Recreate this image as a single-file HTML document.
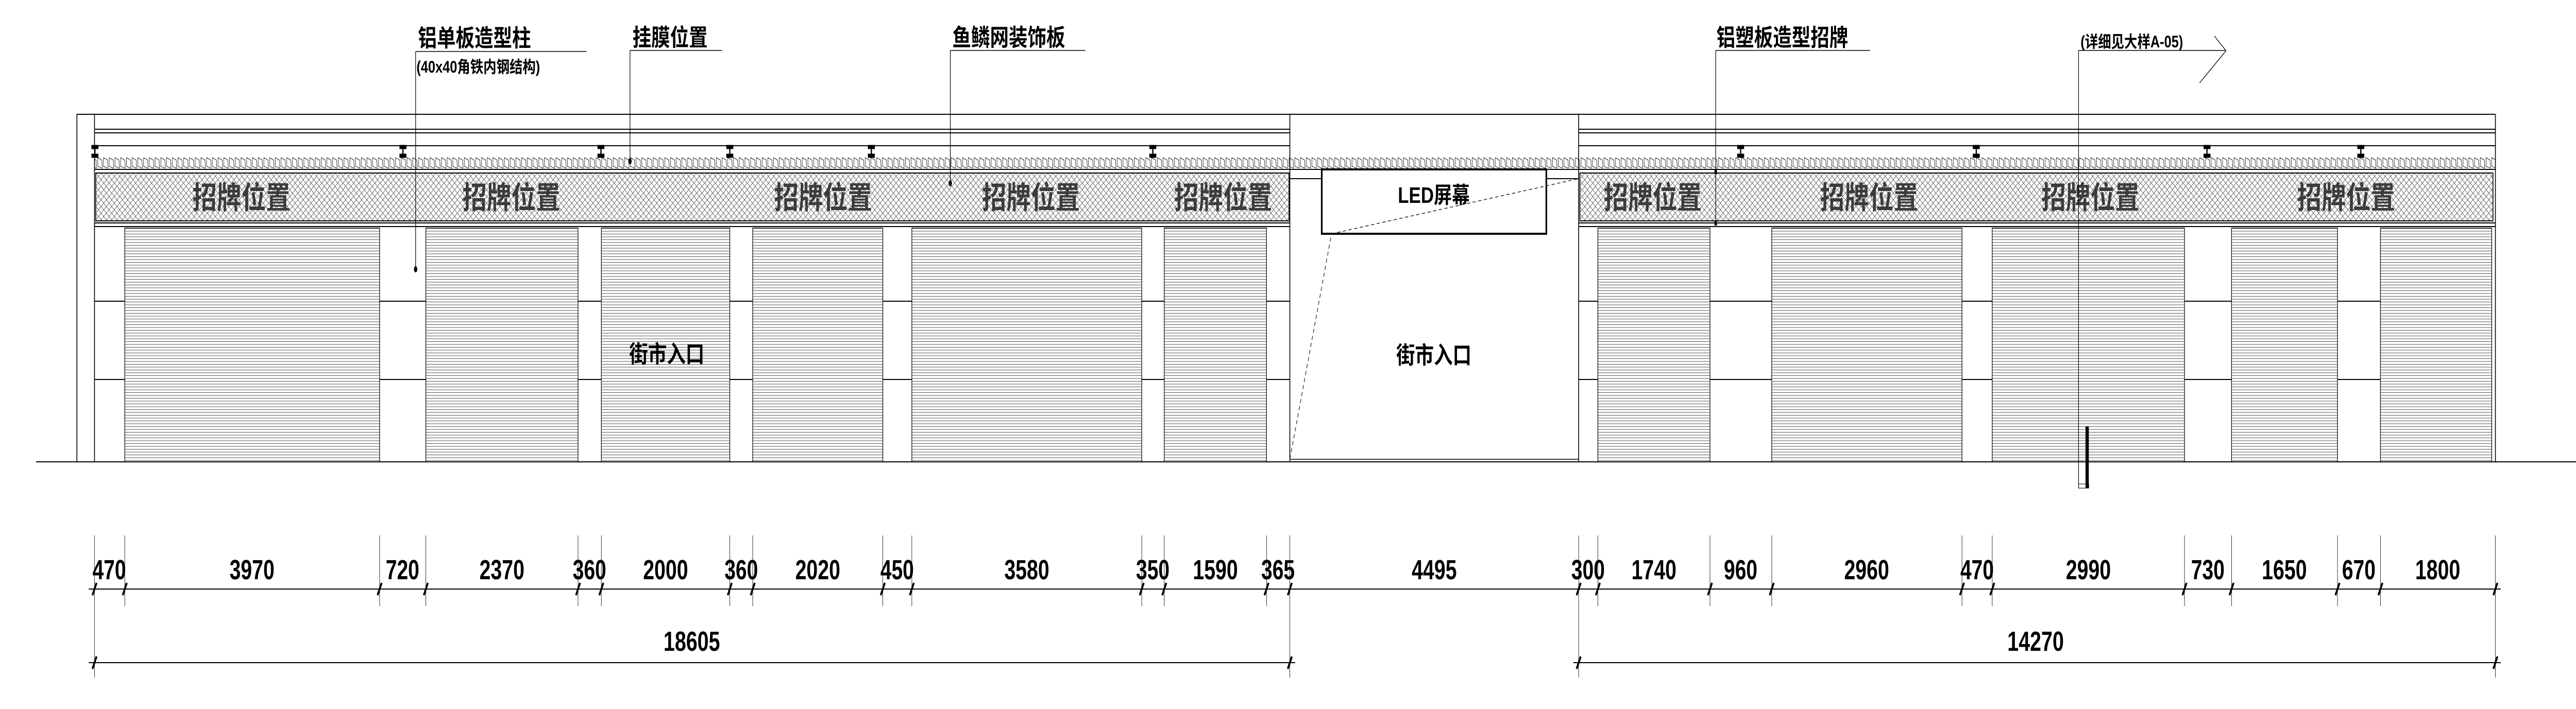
<!DOCTYPE html>
<html><head><meta charset="utf-8"><style>
html,body{margin:0;padding:0;background:#fff;width:100%;height:100%;overflow:hidden;}
svg{display:block;width:100vw;height:100vh;}
.l{font-family:"Liberation Sans","Noto Sans CJK SC",sans-serif;font-weight:bold;fill:#000;}
.s{font-family:"Liberation Sans","Noto Sans CJK SC",sans-serif;font-weight:bold;fill:#3c3c3c;font-size:60px;}
.d{font-family:"Liberation Sans",sans-serif;fill:#000;font-size:54px;font-weight:bold;}
</style></head><body>
<svg viewBox="0 0 6297 1377" preserveAspectRatio="none" xmlns="http://www.w3.org/2000/svg">
<defs>
<pattern id="sh" patternUnits="userSpaceOnUse" x="0" y="443" width="10" height="5.5">
<line x1="0" y1="0.5" x2="10" y2="0.5" stroke="#555" stroke-width="1"/>
</pattern>
<pattern id="xh" patternUnits="userSpaceOnUse" x="0" y="336" width="13" height="13">
<path d="M0 0 L13 13 M13 0 L0 13" stroke="#444" stroke-width="0.9" fill="none"/>
</pattern>
<pattern id="sc" patternUnits="userSpaceOnUse" x="0" y="305" width="14" height="22">
<path d="M1 1 L1 18 L12 22 M1 1 L11 6 L12 22" stroke="#111" stroke-width="1" fill="none"/>
</pattern>
<g id="h"><line x1="0" y1="284" x2="0" y2="304"/><rect x="-7" y="283" width="14" height="5"/><rect x="-7" y="300" width="14" height="5"/></g>
</defs>

<g stroke="#000" stroke-width="2" fill="none">
<line x1="188" y1="222" x2="6100" y2="222"/>
<line x1="188" y1="222" x2="188" y2="897"/>
<line x1="231" y1="222" x2="231" y2="897"/>
<line x1="3153" y1="222" x2="3153" y2="897"/>
<line x1="3859" y1="222" x2="3859" y2="897"/>
<line x1="6100" y1="222" x2="6100" y2="897"/>
<line x1="88" y1="897" x2="6297" y2="897"/>
<line x1="3153" y1="892" x2="3859" y2="892" stroke-width="1.5"/>
<line x1="231" y1="251" x2="3153" y2="251"/>
<line x1="231" y1="258" x2="3153" y2="258"/>
<line x1="231" y1="283" x2="3153" y2="283"/>
<line x1="3859" y1="251" x2="6100" y2="251"/>
<line x1="3859" y1="258" x2="6100" y2="258"/>
<line x1="3859" y1="283" x2="6100" y2="283"/>
<line x1="231" y1="329" x2="6100" y2="329"/>
<line x1="231" y1="433" x2="3153" y2="433"/>
<line x1="231" y1="440" x2="3153" y2="440"/>
<line x1="3859" y1="433" x2="6100" y2="433"/>
<line x1="3859" y1="440" x2="6100" y2="440"/>
<line x1="3153" y1="347" x2="3231" y2="347"/>
<line x1="3780" y1="347" x2="3859" y2="347"/>
</g>

<rect x="232" y="305" width="5867" height="22" fill="url(#sc)"/>
<rect x="234" y="336" width="2917" height="93" fill="url(#xh)" stroke="#000" stroke-width="2"/>
<rect x="3862" y="336" width="2232" height="93" fill="url(#xh)" stroke="#000" stroke-width="2"/>

<g stroke="#000" stroke-width="1.5">
<rect x="305" y="443" width="623" height="454" fill="url(#sh)"/>
<rect x="1041" y="443" width="372" height="454" fill="url(#sh)"/>
<rect x="1470" y="443" width="314" height="454" fill="url(#sh)"/>
<rect x="1840" y="443" width="318" height="454" fill="url(#sh)"/>
<rect x="2229" y="443" width="562" height="454" fill="url(#sh)"/>
<rect x="2846" y="443" width="250" height="454" fill="url(#sh)"/>
<rect x="3906" y="443" width="274" height="454" fill="url(#sh)"/>
<rect x="4331" y="443" width="465" height="454" fill="url(#sh)"/>
<rect x="4870" y="443" width="470" height="454" fill="url(#sh)"/>
<rect x="5455" y="443" width="259" height="454" fill="url(#sh)"/>
<rect x="5819" y="443" width="272" height="454" fill="url(#sh)"/>
</g>
<g stroke="#000" stroke-width="2">
<path d="M231 585H305M928 585H1041M1413 585H1470M1784 585H1840M2158 585H2229M2791 585H2846M3096 585H3153M3859 585H3906M4180 585H4331M4796 585H4870M5340 585H5455M5714 585H5819"/>
<path d="M231 737H305M928 737H1041M1413 737H1470M1784 737H1840M2158 737H2229M2791 737H2846M3096 737H3153M3859 737H3906M4180 737H4331M4796 737H4870M5340 737H5455M5714 737H5819"/>
</g>

<g stroke="#000" stroke-width="3" fill="#000">
<use href="#h" x="232"/><use href="#h" x="985"/><use href="#h" x="1469"/><use href="#h" x="1784"/><use href="#h" x="2130"/><use href="#h" x="2818"/><use href="#h" x="4255"/><use href="#h" x="4831"/><use href="#h" x="5395"/><use href="#h" x="5771"/>
</g>

<rect x="3231" y="329" width="549" height="125" fill="#fff" stroke="#000" stroke-width="4"/>
<path d="M3153 892 L3255 454 M3255 454 L3859 347" stroke="#222" stroke-width="1.5" stroke-dasharray="8,6" fill="none"/>
<text class="l" x="3505" y="394" font-size="44" text-anchor="middle">LED屏幕</text>
<text class="l" x="3505" y="706" font-size="46" text-anchor="middle" font-weight="normal">街市入口</text>
<text class="l" x="1630" y="704" font-size="46" text-anchor="middle" font-weight="normal">街市入口</text>

<text class="s" x="590" y="405" text-anchor="middle">招牌位置</text>
<text class="s" x="1250" y="405" text-anchor="middle">招牌位置</text>
<text class="s" x="2012" y="405" text-anchor="middle">招牌位置</text>
<text class="s" x="2520" y="405" text-anchor="middle">招牌位置</text>
<text class="s" x="2990" y="405" text-anchor="middle">招牌位置</text>
<text class="s" x="4040" y="405" text-anchor="middle">招牌位置</text>
<text class="s" x="4569" y="405" text-anchor="middle">招牌位置</text>
<text class="s" x="5110" y="405" text-anchor="middle">招牌位置</text>
<text class="s" x="5735" y="405" text-anchor="middle">招牌位置</text>

<g stroke="#000" stroke-width="1.5" fill="none">
<path d="M1016 100 H1434 M1016 100 V523"/>
<path d="M1540 98 H1765 M1540 98 V313"/>
<path d="M2323 98 H2653 M2323 98 V356"/>
<path d="M4194 98 H4571 M4194 98 V434"/>
<path d="M5081 98 H5441 L5413 70 M5441 99 L5377 161 M5081 98 V948"/>
</g>
<g fill="#000">
<ellipse cx="1016" cy="523" rx="4" ry="6"/>
<ellipse cx="1540" cy="313" rx="4" ry="6"/>
<ellipse cx="2323" cy="356" rx="4" ry="6"/>
<rect x="4191" y="328" width="6" height="10"/>
<rect x="4191" y="428" width="6" height="10"/>
<rect x="5098" y="828" width="8" height="120"/>
</g>
<rect x="5081" y="940" width="25" height="8" fill="none" stroke="#000" stroke-width="1"/>
<text class="l" x="1022" y="90" font-size="46">铝单板造型柱</text>
<text class="l" x="1018" y="141" font-size="32" font-weight="normal">(40x40角铁内钢结构)</text>
<text class="l" x="1546" y="89" font-size="46">挂膜位置</text>
<text class="l" x="2328" y="89" font-size="46">鱼鳞网装饰板</text>
<text class="l" x="4196" y="89" font-size="46">铝塑板造型招牌</text>
<text class="l" x="5086" y="92" font-size="32" font-weight="normal">(详细见大样A-05)</text>

<g stroke="#000" stroke-width="2" fill="none">
<line x1="217" y1="1144" x2="6113" y2="1144"/>
<line x1="217" y1="1287" x2="3166" y2="1287"/>
<line x1="3846" y1="1287" x2="6113" y2="1287"/>
</g>
<g stroke="#000" stroke-width="1">
<path d="M231 1040V1316M305 1040V1177M928 1040V1177M1041 1040V1177M1413 1040V1177M1470 1040V1177M1784 1040V1177M1840 1040V1177M2158 1040V1177M2229 1040V1177M2791 1040V1177M2846 1040V1177M3096 1040V1177M3153 1040V1316M3859 1040V1316M3906 1040V1177M4180 1040V1177M4331 1040V1177M4796 1040V1177M4870 1040V1177M5340 1040V1177M5455 1040V1177M5714 1040V1177M5819 1040V1177M6100 1040V1316"/>
</g>
<g stroke="#000" stroke-width="4.5" fill="none">
<path d="M226 1156L236 1132M300 1156L310 1132M923 1156L933 1132M1036 1156L1046 1132M1408 1156L1418 1132M1465 1156L1475 1132M1779 1156L1789 1132M1835 1156L1845 1132M2153 1156L2163 1132M2224 1156L2234 1132M2786 1156L2796 1132M2841 1156L2851 1132M3091 1156L3101 1132M3148 1156L3158 1132M3854 1156L3864 1132M3901 1156L3911 1132M4175 1156L4185 1132M4326 1156L4336 1132M4791 1156L4801 1132M4865 1156L4875 1132M5335 1156L5345 1132M5450 1156L5460 1132M5709 1156L5719 1132M5814 1156L5824 1132M6095 1156L6105 1132"/>
<path d="M226 1299L236 1275M3148 1299L3158 1275M3854 1299L3864 1275M6095 1299L6105 1275"/>
</g>
<g class="d" text-anchor="middle">
<text x="267" y="1125" textLength="82" lengthAdjust="spacingAndGlyphs">470</text>
<text x="616" y="1125" textLength="110" lengthAdjust="spacingAndGlyphs">3970</text>
<text x="984" y="1125" textLength="82" lengthAdjust="spacingAndGlyphs">720</text>
<text x="1227" y="1125" textLength="110" lengthAdjust="spacingAndGlyphs">2370</text>
<text x="1441" y="1125" textLength="82" lengthAdjust="spacingAndGlyphs">360</text>
<text x="1627" y="1125" textLength="110" lengthAdjust="spacingAndGlyphs">2000</text>
<text x="1812" y="1125" textLength="82" lengthAdjust="spacingAndGlyphs">360</text>
<text x="1999" y="1125" textLength="110" lengthAdjust="spacingAndGlyphs">2020</text>
<text x="2193" y="1125" textLength="82" lengthAdjust="spacingAndGlyphs">450</text>
<text x="2510" y="1125" textLength="110" lengthAdjust="spacingAndGlyphs">3580</text>
<text x="2818" y="1125" textLength="82" lengthAdjust="spacingAndGlyphs">350</text>
<text x="2971" y="1125" textLength="110" lengthAdjust="spacingAndGlyphs">1590</text>
<text x="3124" y="1125" textLength="82" lengthAdjust="spacingAndGlyphs">365</text>
<text x="3506" y="1125" textLength="110" lengthAdjust="spacingAndGlyphs">4495</text>
<text x="3882" y="1125" textLength="82" lengthAdjust="spacingAndGlyphs">300</text>
<text x="4043" y="1125" textLength="110" lengthAdjust="spacingAndGlyphs">1740</text>
<text x="4255" y="1125" textLength="82" lengthAdjust="spacingAndGlyphs">960</text>
<text x="4563" y="1125" textLength="110" lengthAdjust="spacingAndGlyphs">2960</text>
<text x="4833" y="1125" textLength="82" lengthAdjust="spacingAndGlyphs">470</text>
<text x="5105" y="1125" textLength="110" lengthAdjust="spacingAndGlyphs">2990</text>
<text x="5397" y="1125" textLength="82" lengthAdjust="spacingAndGlyphs">730</text>
<text x="5584" y="1125" textLength="110" lengthAdjust="spacingAndGlyphs">1650</text>
<text x="5766" y="1125" textLength="82" lengthAdjust="spacingAndGlyphs">670</text>
<text x="5959" y="1125" textLength="110" lengthAdjust="spacingAndGlyphs">1800</text>
<text x="1691" y="1264" textLength="138" lengthAdjust="spacingAndGlyphs">18605</text>
<text x="4976" y="1264" textLength="138" lengthAdjust="spacingAndGlyphs">14270</text>
</g>
</svg>
</body></html>
